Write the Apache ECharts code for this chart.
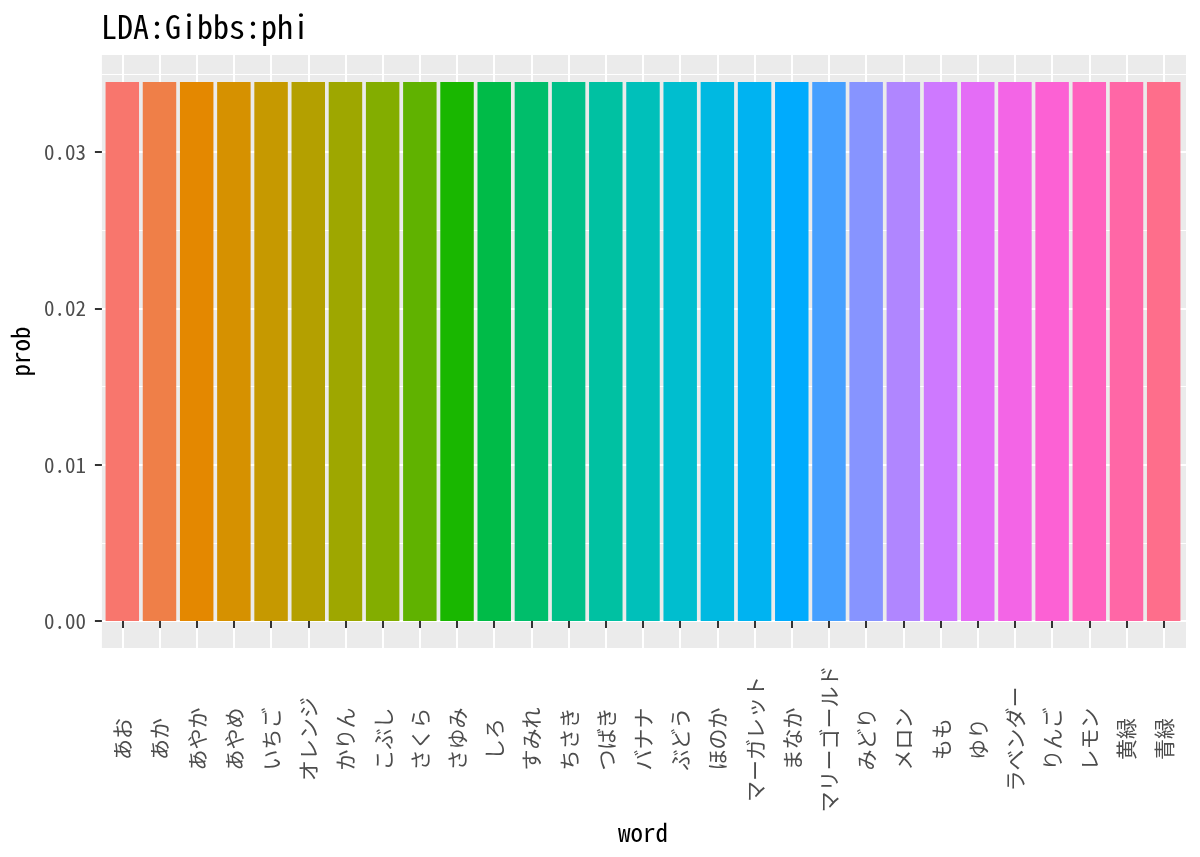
<!DOCTYPE html>
<html><head><meta charset="utf-8">
<script src="https://cdn.jsdelivr.net/npm/echarts@6/dist/echarts.min.js"></script>
<style>html,body{margin:0;padding:0;background:#fff}#c{width:1200px;height:857px}</style>
</head><body><div id="c"></div>
<script>
// ---- data ----
const words = ['あお','あか','あやか','あやめ','いちご','オレンジ','かりん','こぶし','さくら','さゆみ','しろ','すみれ','ちさき','つばき','バナナ','ぶどう','ほのか','マーガレット','まなか','マリーゴールド','みどり','メロン','もも','ゆり','ラベンダー','りんご','レモン','黄緑','青緑'];
const prob = [0.03448,0.03448,0.03448,0.03448,0.03448,0.03448,0.03448,0.03448,0.03448,0.03448,0.03448,0.03448,0.03448,0.03448,0.03448,0.03448,0.03448,0.03448,0.03448,0.03448,0.03448,0.03448,0.03448,0.03448,0.03448,0.03448,0.03448,0.03448,0.03448];
const yTicks = [0, 0.01, 0.02, 0.03];
const yMinorTicks = [0.005, 0.015, 0.025, 0.035];

// ggplot2 default hue palette (style only)
function hcl(h, c, l) {
  const hr = h * Math.PI / 180;
  const U = c * Math.cos(hr), V = c * Math.sin(hr);
  const Y = l > 8 ? Math.pow((l + 16) / 116, 3) : l / 903.3;
  const un = 0.1978398, vn = 0.4683363;
  const u = U / (13 * l) + un, v = V / (13 * l) + vn;
  const X = 9 * Y * u / (4 * v);
  const Z = -X / 3 - 5 * Y + 3 * Y / v;
  const lin = [
    3.240479 * X - 1.537150 * Y - 0.498535 * Z,
   -0.969256 * X + 1.875992 * Y + 0.041556 * Z,
    0.055648 * X - 0.204043 * Y + 1.057311 * Z
  ];
  return '#' + lin.map(t => {
    let g = t > 0.00304 ? 1.055 * Math.pow(t, 1 / 2.4) - 0.055 : 12.92 * t;
    g = Math.max(0, Math.min(1, g));
    return Math.round(g * 255).toString(16).padStart(2, '0');
  }).join('');
}
const colors = words.map((w, i) => hcl(15 + i * 360 / words.length, 100, 65));

const FONT = '"Noto Sans Mono CJK JP", "Noto Sans CJK JP", monospace';
const yMin = -0.0017241, yMax = 0.0362069;

const chart = echarts.init(document.getElementById('c'), null, {renderer: 'canvas'});
chart.setOption({
  animation: false,
  backgroundColor: '#ffffff',
  textStyle: {fontFamily: FONT},
  title: {
    text: 'LDA:Gibbs:phi', left: 96, top: 6,
    textStyle: {fontSize: 32, fontWeight: 'normal', color: '#000', fontFamily: FONT}
  },
  grid: [
    {left: 100, right: 14, top: 55, bottom: 209, show: true, backgroundColor: '#EBEBEB', borderWidth: 0},
    {left: 122.3, right: 36.3, top: 55, bottom: 209}
  ],
  xAxis: [
    {
      gridIndex: 1, type: 'category', data: words, boundaryGap: false,
      axisLine: {show: false},
      axisTick: {show: true, interval: 0, length: 7, lineStyle: {color: '#333333', width: 2}},
      splitLine: {show: true, interval: 0, lineStyle: {color: '#ffffff', width: 2}},
      axisLabel: {
        interval: 0, rotate: 90, align: 'center', verticalAlign: 'middle', margin: 91,
        fontSize: 21, color: '#4D4D4D', fontFamily: FONT
      },
      name: 'word', nameLocation: 'middle', nameGap: 162,
      nameTextStyle: {fontSize: 25, color: '#000', fontFamily: FONT}
    },
    {
      gridIndex: 0, type: 'value', min: 0, max: 1, show: false
    }
  ],
  yAxis: [
    {
      gridIndex: 0, type: 'value', min: yMin, max: yMax,
      axisLine: {show: false},
      axisTick: {show: true, length: 7, customValues: yTicks, lineStyle: {color: '#333333', width: 2}},
      axisLabel: {customValues: yTicks, formatter: v => v.toFixed(2), fontSize: 21, color: '#4D4D4D', margin: 16, fontFamily: FONT},
      splitLine: {show: true, lineStyle: {color: '#ffffff', width: 2}},
      name: 'prob', nameLocation: 'middle', nameGap: 61,
      nameTextStyle: {fontSize: 25, color: '#000', fontFamily: FONT}
    },
    {
      gridIndex: 0, type: 'value', min: yMin, max: yMax,
      axisLine: {show: false},
      axisTick: {show: false, customValues: yMinorTicks},
      axisLabel: {show: false},
      splitLine: {show: true, lineStyle: {color: '#ffffff', width: 1}}
    },
    {
      gridIndex: 1, type: 'value', min: yMin, max: yMax, show: false
    }
  ],
  series: [{
    type: 'bar', xAxisIndex: 0, yAxisIndex: 2, barWidth: '90%', clip: false,
    data: prob.map((v, i) => ({value: v, itemStyle: {color: colors[i]}}))
  }]
});
</script></body></html>
